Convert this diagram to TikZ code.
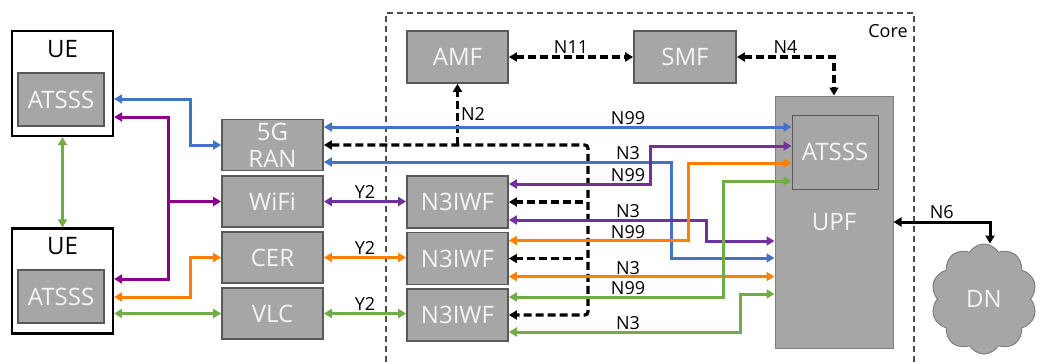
\documentclass[tikz,border=0pt]{standalone}
\usepackage{fontspec}
\setmainfont{Open Sans}
\usetikzlibrary{positioning, arrows.meta, shapes.symbols}
\definecolor{boxgray}{HTML}{A6A6A6}
\definecolor{boxedge}{HTML}{595959}
\definecolor{upfedge}{HTML}{808080}
\definecolor{boxtext}{HTML}{F4F4F4}
\definecolor{cblue}{HTML}{4472C4}
\definecolor{cmag}{HTML}{8B008B}
\definecolor{cviolet}{HTML}{7030A0}
\definecolor{corange}{HTML}{FF8000}
\definecolor{cgreen}{HTML}{70AD47}
\definecolor{coreedge}{HTML}{4D4D4D}

\begin{document}
\begin{tikzpicture}[x=1pt, y=-1pt,
  >={Triangle[length=8pt,width=9pt]},
  box/.style={draw=boxedge, fill=boxgray, line width=1.8pt, minimum width=101pt, minimum height=51pt,
              inner sep=0pt, text=boxtext, align=center, font=\fontsize{24}{27}\selectfont},
  uebox/.style={draw=black, fill=white, line width=2.2pt, minimum width=101pt, minimum height=105pt},
  uetxt/.style={font=\fontsize{24}{27}\selectfont, inner sep=2pt},
  lbl/.style={font=\fontsize{18}{20}\selectfont, inner sep=2pt, text=black},
  arr/.style={line width=3pt},
  ctl/.style={line width=3.2pt, dash pattern=on 8pt off 4pt, black},
  corebox/.style={draw=coreedge, line width=1.1pt, dash pattern=on 6pt off 4pt},
]
\useasboundingbox (0,0) rectangle (1042,362);

% User equipment
\node[uebox] (ue1) at (62.5,83.5) {};
\node[uetxt, below=8pt of ue1.north] (ue1t) {UE};
\node[box, minimum width=86pt, minimum height=53pt] (ue1at) at (61,99.5) {ATSSS};
\node[uebox] (ue2) at (62.5,281) {};
\node[uetxt, below=8pt of ue2.north] (ue2t) {UE};
\node[box, minimum width=86pt, minimum height=53pt] (ue2at) at (61,296.5) {ATSSS};

% Access networks
\node[box] (ran) at (272.5,145) {5G\\RAN};
\node[box] (wifi) at (272.5,201.5) {WiFi};
\node[box] (cer) at (272.5,257.5) {CER};
\node[box] (vlc) at (272.5,313.5) {VLC};

% Core network
\draw[corebox] (386,362) |- (914,13) -- (914,362);
\node[lbl] (corelbl) at (888,31) {Core};
\node[box, minimum height=52pt] (amf) at (457.5,57) {AMF};
\node[box, minimum width=102pt, minimum height=52pt] (smf) at (685,57) {SMF};
\node[box, minimum height=52pt] (iwf1) at (457.5,202) {N3IWF};
\node[box, minimum height=52pt] (iwf2) at (457.5,258.5) {N3IWF};
\node[box, minimum height=52pt] (iwf3) at (457.5,315) {N3IWF};
\node[box, draw=upfedge, line width=1pt, minimum width=118pt, minimum height=252pt] (upf) at (834,222) {UPF};
\node[box, line width=1pt, minimum width=86pt, minimum height=74pt] (upfat) at (835,152) {ATSSS};

% Data network
\node[cloud, cloud puffs=10, cloud puff arc=120, aspect=1, draw=upfedge, fill=boxgray, line width=1pt,
      minimum width=106pt, minimum height=110pt, text=boxtext, font=\fontsize{24}{27}\selectfont] (dn) at (984,299) {DN};

% UE side links
\draw[arr, cgreen, <->] (ue1.south) -- (ue2.north);
\draw[arr, cblue, <->] ([yshift=-15.5pt]ue1.east) -| ([xshift=-31pt]ran.west) -- (ran.west);
\draw[arr, cmag, <->] ([yshift=-33.5pt]ue1.east) -| ([xshift=54pt,yshift=2pt]ue2.east) -- ([yshift=2pt]ue2.east);
\draw[arr, cmag, ->] ([xshift=-54pt]wifi.west) -- (wifi.west);
\draw[arr, corange, <->] ([yshift=-16pt]ue2.east) -| ([xshift=-31pt]cer.west) -- (cer.west);
\draw[arr, cgreen, <->] (ue2.east |- vlc.west) -- (vlc.west);

% Y2 links
\draw[arr, cviolet, <->] (wifi.east) -- node[lbl, above] (y2a) {Y2} (wifi.east -| iwf1.west);
\draw[arr, corange, <->] (cer.east) -- node[lbl, above] (y2b) {Y2} (cer.east -| iwf2.west);
\draw[arr, cgreen, <->] (vlc.east) -- node[lbl, above] (y2c) {Y2} (vlc.east -| iwf3.west);

% Control plane
\draw[ctl, <->] (amf) -- node[lbl, above] (n11) {N11} (smf);
\draw[ctl, <->] (smf) -| node[lbl, above, pos=0.25] (n4) {N4} (upf);
\draw[ctl, <->, rounded corners=3pt] (ran.east) -| ([xshift=79pt]iwf3.east) -- (iwf3.east);
\draw[ctl, ->] ([xshift=74pt]iwf1.east) -- (iwf1.east);
\draw[ctl, ->] ([xshift=74pt]iwf2.east) -- (iwf2.east);
\draw[ctl, ->] (amf.south |- ran.east) -- node[lbl, right] (n2) {N2} (amf.south);

% User plane
\draw[arr, cblue, <->] ([yshift=18pt]ran.east) -- ([yshift=25pt]upfat.west);
\draw[arr, cblue, <->] ([yshift=-17pt]ran.east) -| ([xshift=-103pt,yshift=-36pt]upf.west) -- ([yshift=-36pt]upf.west);
\draw[arr, cviolet, <->] ([yshift=18pt]iwf1.east) -| ([xshift=-141pt,yshift=6pt]upfat.west) -- ([yshift=6pt]upfat.west);
\draw[arr, cviolet, <->] ([yshift=-18pt]iwf1.east) -| ([xshift=-68pt,yshift=-19pt]upf.west) -- ([yshift=-19pt]upf.west);
\draw[arr, corange, <->] ([yshift=18pt]iwf2.east) -| ([xshift=-103pt,yshift=-11pt]upfat.west) -- ([yshift=-11pt]upfat.west);
\draw[arr, corange, <->] ([yshift=-18pt]iwf2.east) -- ([yshift=-18pt]iwf2.east -| upf.west);
\draw[arr, cgreen, <->] ([yshift=18pt]iwf3.east) -| ([xshift=-68pt,yshift=-29pt]upfat.west) -- ([yshift=-29pt]upfat.west);
\draw[arr, cgreen, <->] ([yshift=-17pt]iwf3.east) -| ([xshift=-34pt,yshift=-72pt]upf.west) -- ([yshift=-72pt]upf.west);

\node[lbl, above] (l1) at (628,127) {N99};
\node[lbl, above] (l2) at (628,162) {N3};
\node[lbl, above] (l3) at (628,184) {N99};
\node[lbl, above] (l4) at (628,220) {N3};
\node[lbl, above] (l5) at (628,240.5) {N99};
\node[lbl, above] (l6) at (628,276.5) {N3};
\node[lbl, above] (l7) at (628,297) {N99};
\node[lbl, above] (l8) at (628,332) {N3};

% N6
\draw[line width=3pt, <->] (upf.east) -| node[lbl, above, pos=0.25] (n6) {N6} ([xshift=6pt]dn.north);

\end{tikzpicture}
\end{document}
